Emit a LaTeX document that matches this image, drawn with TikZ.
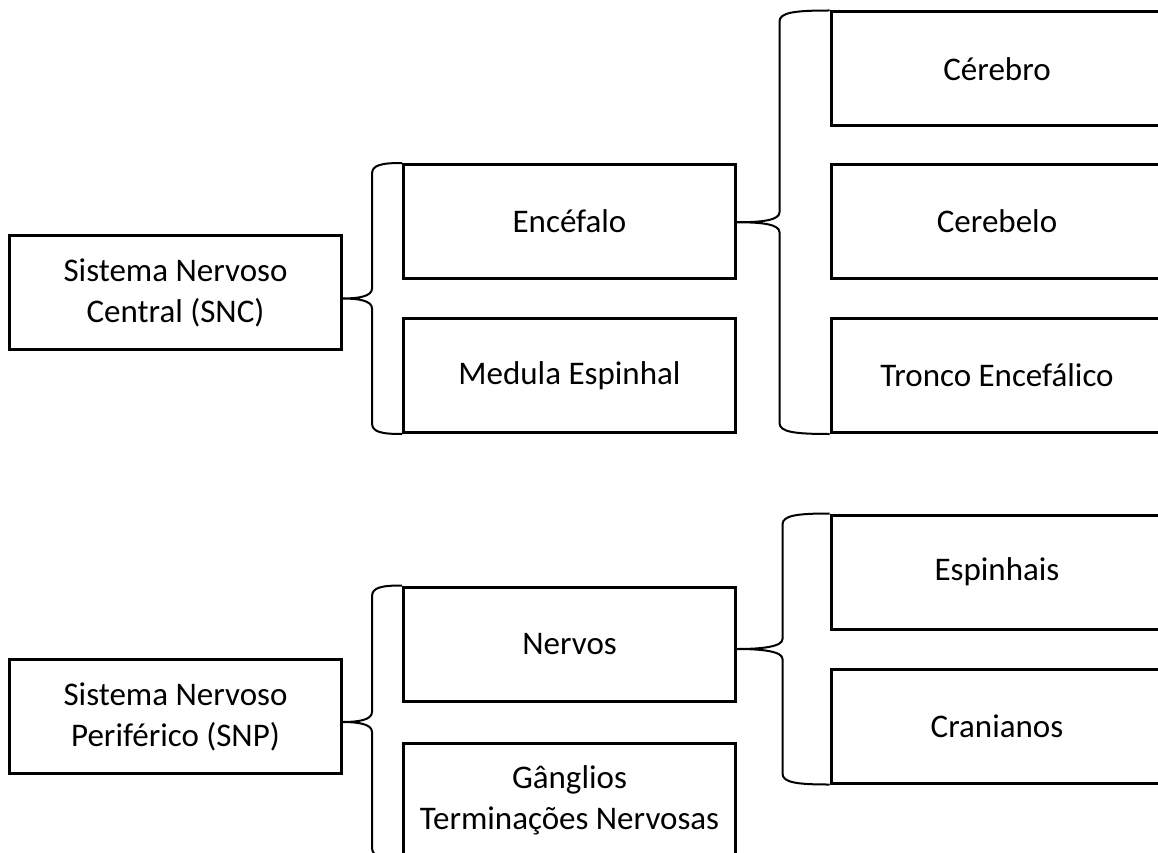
\documentclass[tikz,border=0pt]{standalone}
\usepackage{fontspec}
\setmainfont{Carlito}
\usetikzlibrary{calc}
\tikzset{
  box/.style={draw, line width=3pt, minimum width=332pt, minimum height=114pt, inner sep=0pt, align=center, font=\fontsize{33}{41}\selectfont},
  brace/.style={draw, line width=2pt}
}
\newcommand\mybrace[4]{%
  \coordinate (m) at ($(#1.north west)!0.5!(#2.south west)$);
  \draw[brace] (#1.north west) .. controls +(-#4*0.7,0) and +(0,-9) .. ($(#1.north west)+(-#4,11)$)
    -- ($(m)+(-#4,-10)$) .. controls +(0,8) and +(#4*0.5,0) .. (#3.east |- m)
    .. controls +(#4*0.5,0) and +(0,-8) .. ($(m)+(-#4,10)$)
    -- ($(#2.south west)+(-#4,-11)$) .. controls +(0,9) and +(-#4*0.7,0) .. (#2.south west);
}
\begin{document}
\begin{tikzpicture}[x=1pt,y=-1pt]
\useasboundingbox (0,0) rectangle (1158,853);
\clip (0,0) rectangle (1158,853);
\node[box] (snc) at (175.5,292.5) {Sistema Nervoso\\Central (SNC)};
\node[box] (enc) at (569.5,221.5) {Encéfalo};
\node[box] (med) at (569.5,375.5) {Medula Espinhal};
\node[box] (cer) at (997,69) {Cérebro};
\node[box] (cbl) at (997,221.5) {Cerebelo};
\node[box] (tro) at (997,375.5) {Tronco Encefálico};
\node[box] (snp) at (175.5,716.5) {Sistema Nervoso\\Periférico (SNP)};
\node[box] (ner) at (569.5,644) {Nervos};
\node[box] (gan) at (569.5,800) {Gânglios\\Terminações Nervosas};
\node[box] (esp) at (997,572) {Espinhais};
\node[box] (cra) at (997,726) {Cranianos};
\mybrace{enc}{med}{snc}{30}
\mybrace{cer}{tro}{enc}{50}
\mybrace{ner}{gan}{snp}{30}
\mybrace{esp}{cra}{ner}{47}
\end{tikzpicture}
\end{document}
